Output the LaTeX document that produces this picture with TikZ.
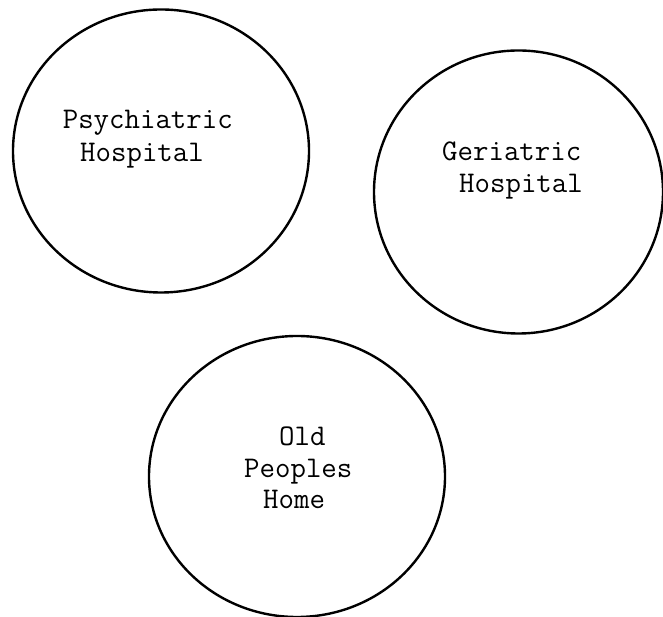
\documentclass[tikz,border=0pt]{standalone}
\usepackage{tikz}
\usetikzlibrary{shapes.geometric}

\begin{document}
\begin{tikzpicture}[x=1pt,y=1pt,
  place/.style={draw,ellipse,line width=2.4pt,inner sep=0pt,
    minimum width=296pt,minimum height=283pt},
  word/.style={anchor=base west,inner sep=0pt,
    font=\fontsize{30}{32}\selectfont\ttfamily}]
%\draw[help lines] (0,0) grid (663,617);
\useasboundingbox (0,0) rectangle (663,617);

\node[place] (psych) at (161,466) {};
\node[place,minimum width=289pt] (geri) at (518.5,425) {};
\node[place,minimum height=281pt] (home) at (297,140.5) {};

\node[word] (psych1) at (62.6,488) {Psychiatric};
\node[word] (psych2) at (80,455) {Hospital};

\node[word] (geri1) at (442,456) {Geriatric};
\node[word] (geri2) at (459,424) {Hospital};

\node[word] (home1) at (279,171.4) {Old};
\node[word] (home2) at (244,139) {Peoples};
\node[word] (home3) at (263,108.3) {Home};
\end{tikzpicture}
\end{document}
